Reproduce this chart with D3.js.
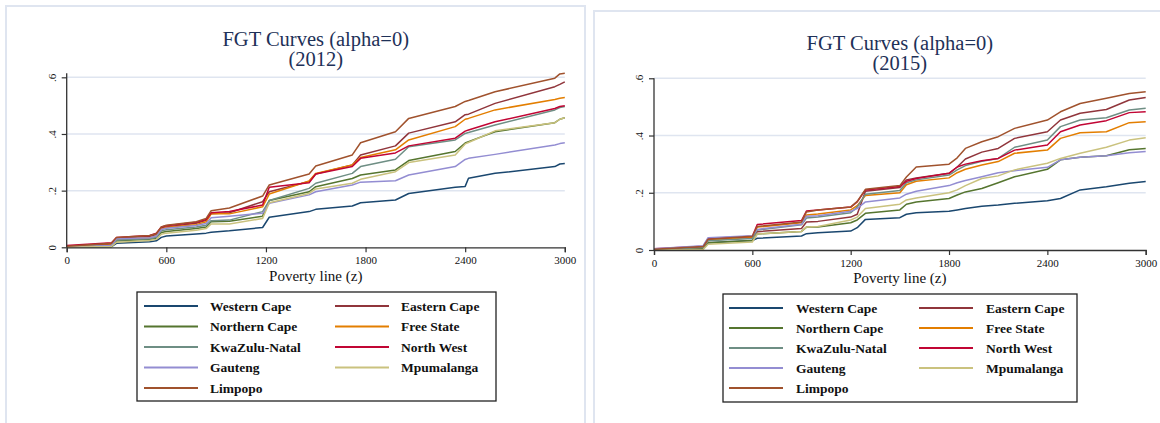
<!DOCTYPE html>
<html>
<head>
<meta charset="utf-8">
<title>FGT Curves (alpha=0)</title>
<script src="https://cdn.jsdelivr.net/npm/d3@7"></script>
<style>
body { margin: 0; background: #fff; }
text { font-family: "Liberation Serif", "DejaVu Serif", serif; }
</style>
</head>
<body>
<svg id="chart" width="1160" height="423"></svg>
<script>
// provinces, in legend order (two columns, row by row)
var provinces = ["Western Cape", "Eastern Cape", "Northern Cape", "Free State",
  "KwaZulu-Natal", "North West", "Gauteng", "Mpumalanga", "Limpopo"];
// stata s2color
var palette = ["#1a476f", "#90353b", "#55752f", "#e37e00", "#6e8e84",
  "#c10534", "#938dd2", "#cac27e", "#a0522d"];

var xTicks = [0, 600, 1200, 1800, 2400, 3000];
var yTicks = [0, 0.2, 0.4, 0.6];

// ---- 2012 ----
var z2012 = [0, 270, 300, 500, 540, 570, 600, 780, 840, 870, 980, 1180, 1220, 1460, 1500,
  1720, 1770, 1980, 2060, 2340, 2400, 2420, 2580, 2940, 2970, 3000];
var westernCape2012  = [0, .002, .014, .020, .023, .035, .040, .047, .050, .053, .058, .070, .106, .126, .134, .146, .157, .167, .190, .212, .215, .244, .261, .285, .294, .296];
var easternCape2012  = [.003, .012, .032, .038, .045, .068, .072, .085, .095, .118, .122, .161, .196, .232, .259, .291, .326, .358, .403, .443, .468, .470, .508, .567, .575, .584];
var northernCape2012 = [0, .004, .022, .028, .032, .052, .056, .066, .072, .090, .092, .110, .165, .196, .214, .243, .255, .273, .306, .338, .368, .373, .408, .440, .452, .457];
var freeState2012    = [.002, .008, .028, .034, .040, .064, .070, .080, .090, .118, .118, .143, .188, .234, .261, .291, .317, .344, .379, .426, .452, .455, .485, .522, .526, .529];
var kwaZulu2012      = [0, .006, .026, .030, .035, .058, .062, .072, .078, .094, .096, .126, .165, .208, .226, .261, .285, .311, .355, .379, .402, .405, .432, .485, .493, .497];
var northWest2012    = [.006, .016, .035, .042, .050, .072, .076, .088, .098, .122, .126, .149, .212, .228, .259, .285, .314, .333, .358, .385, .410, .414, .443, .490, .497, .500];
var gauteng2012      = [0, .006, .030, .034, .040, .063, .067, .077, .084, .104, .110, .120, .155, .185, .196, .220, .230, .235, .255, .285, .310, .314, .328, .361, .366, .369];
var mpumalanga2012   = [0, .003, .018, .024, .028, .046, .050, .060, .066, .082, .082, .102, .157, .190, .206, .226, .240, .267, .299, .326, .365, .370, .411, .440, .452, .457];
var limpopo2012      = [.004, .014, .035, .042, .048, .072, .078, .090, .102, .129, .139, .181, .220, .259, .287, .326, .369, .408, .455, .497, .515, .518, .549, .597, .612, .614];

// ---- 2015 ----
var z2015 = [0, 300, 330, 600, 630, 900, 930, 1000, 1200, 1240, 1290, 1500, 1540, 1600,
  1800, 1850, 1900, 2000, 2100, 2200, 2400, 2480, 2600, 2760, 2900, 3000];
var westernCape2015  = [0, .003, .025, .033, .041, .049, .057, .060, .066, .078, .107, .113, .125, .130, .135, .140, .145, .153, .157, .163, .172, .180, .210, .221, .233, .239];
var easternCape2015  = [0, .008, .035, .045, .064, .075, .098, .100, .115, .125, .205, .218, .245, .252, .268, .290, .318, .342, .355, .390, .413, .454, .478, .491, .524, .533];
var northernCape2015 = [0, .005, .025, .033, .056, .065, .080, .080, .095, .105, .128, .140, .160, .168, .180, .192, .203, .215, .235, .256, .282, .315, .324, .329, .350, .355];
var freeState2015    = [.002, .010, .033, .045, .080, .095, .122, .126, .140, .155, .190, .200, .228, .240, .252, .270, .282, .297, .309, .338, .349, .390, .410, .413, .445, .448];
var kwaZulu2015      = [.001, .009, .032, .040, .070, .088, .112, .115, .130, .150, .195, .208, .235, .245, .262, .280, .295, .310, .320, .359, .384, .431, .454, .462, .489, .495];
var northWest2015    = [.004, .013, .040, .048, .089, .103, .136, .140, .150, .168, .210, .222, .240, .250, .268, .290, .300, .312, .320, .349, .367, .413, .437, .452, .480, .483];
var gauteng2015      = [.004, .015, .043, .050, .072, .090, .118, .120, .135, .145, .168, .182, .195, .205, .225, .235, .243, .256, .270, .277, .289, .315, .324, .329, .340, .344];
var mpumalanga2015   = [0, .002, .020, .028, .056, .065, .080, .082, .105, .115, .145, .160, .175, .182, .200, .210, .225, .250, .259, .280, .303, .320, .338, .359, .384, .392];
var limpopo2015      = [.003, .012, .038, .048, .082, .098, .133, .140, .150, .170, .212, .225, .255, .290, .300, .322, .355, .378, .396, .425, .454, .483, .512, .530, .547, .553];

var svg = d3.select("#chart");

function fmtY(d) {
  if (d === 0) return "0";
  return d3.format(".1f")(d).replace(/^0/, "");
}

function drawPanel(p) {
  // frame of the graph region
  svg.append("rect")
    .attr("x", p.frame[0]).attr("y", p.frame[1])
    .attr("width", p.frame[2]).attr("height", p.frame[3])
    .attr("fill", "none").attr("stroke", "#dfe5f0").attr("stroke-width", 2);

  var x = d3.scaleLinear().domain([0, 3000]).range([p.left, p.right]);
  var y = d3.scaleLinear().domain([0, p.yMax]).range([p.bottom, p.bottom - p.perUnit * p.yMax]);

  var g = svg.append("g");

  // gridlines
  g.selectAll("line.grid")
    .data(yTicks.filter(function(d) { return d > 0; }))
    .enter().append("line")
    .attr("x1", p.left).attr("x2", p.right)
    .attr("y1", function(d) { return y(d); })
    .attr("y2", function(d) { return y(d); })
    .attr("stroke", "#dfe5f0").attr("stroke-width", 1.5);

  // series
  var line = d3.line()
    .x(function(d) { return x(d[0]); })
    .y(function(d) { return y(d[1]); });

  p.series.forEach(function(vals, i) {
    var pts = p.z.map(function(z, k) { return [z, vals[k]]; });
    g.append("path")
      .datum(pts)
      .attr("d", line)
      .attr("fill", "none")
      .attr("stroke", palette[i])
      .attr("stroke-width", 1.5)
      .attr("stroke-linejoin", "round");
  });

  // axes
  var xAxis = d3.axisBottom(x).tickValues(xTicks).tickSize(5).tickPadding(4)
    .tickFormat(d3.format("d"));
  var gx = g.append("g").attr("transform", "translate(0," + p.bottom + ")").call(xAxis);
  gx.select(".domain").attr("stroke", "#333").attr("stroke-width", 1.3);
  gx.selectAll(".tick line").attr("stroke", "#333").attr("stroke-width", 1.2);
  gx.selectAll(".tick text")
    .attr("font-size", 11).attr("fill", "#111");

  var yAxis = d3.axisLeft(y).tickValues(yTicks).tickSize(5).tickFormat(fmtY);
  var gy = g.append("g").attr("transform", "translate(" + p.left + ",0)").call(yAxis);
  gy.select(".domain").attr("stroke", "#333").attr("stroke-width", 1.3)
    .attr("d", "M0," + y(p.yMax) + "V" + p.bottom);
  gy.selectAll(".tick line").attr("stroke", "#333").attr("stroke-width", 1.2);
  gy.selectAll(".tick text")
    .attr("font-size", 11).attr("fill", "#111")
    .attr("x", null).attr("dy", null)
    .attr("text-anchor", "middle")
    .attr("transform", "translate(-11,0) rotate(-90)");

  // titles (two lines in one text element)
  var cx = (p.left + p.right) / 2;
  var title = svg.append("text").attr("x", cx).attr("y", p.titleY)
    .attr("text-anchor", "middle").attr("font-size", 20.5).attr("fill", "#1e3158");
  title.append("tspan").attr("x", cx).attr("y", p.titleY).text("FGT Curves (alpha=0)");
  title.append("tspan").attr("x", cx).attr("y", p.titleY + 20).text("(" + p.year + ")");

  svg.append("text").attr("x", cx).attr("y", p.axisTitleY)
    .attr("text-anchor", "middle").attr("font-size", 15).attr("fill", "#111")
    .text("Poverty line (z)");

  // legend
  var L = p.legend;
  svg.append("rect")
    .attr("x", L.x).attr("y", L.y).attr("width", L.w).attr("height", L.h)
    .attr("fill", "#fff").attr("stroke", "#222").attr("stroke-width", 1.3);
  provinces.forEach(function(name, i) {
    var col = i % 2, row = Math.floor(i / 2);
    var ly = L.row0 + row * L.step;
    var lx = L.cols[col];
    svg.append("line")
      .attr("x1", lx).attr("x2", lx + L.lineLen)
      .attr("y1", ly).attr("y2", ly)
      .attr("stroke", palette[i]).attr("stroke-width", 2);
    svg.append("text")
      .attr("x", lx + L.textOff).attr("y", ly)
      .attr("dominant-baseline", "central")
      .attr("font-size", 13.5).attr("font-weight", "bold").attr("fill", "#111")
      .text(name);
  });
}

drawPanel({
  year: 2012,
  frame: [6, 6, 579, 440],
  left: 66.7, right: 564.8, bottom: 247.3, perUnit: 283.3, yMax: 0.614,
  titleY: 45.5, axisTitleY: 281,
  z: z2012,
  series: [westernCape2012, easternCape2012, northernCape2012, freeState2012, kwaZulu2012,
    northWest2012, gauteng2012, mpumalanga2012, limpopo2012],
  legend: { x: 137, y: 292, w: 359, h: 109, row0: 306, step: 20.5,
    cols: [144, 335], lineLen: 54, textOff: 66 }
});

drawPanel({
  year: 2015,
  frame: [594, 11, 600, 440],
  left: 654, right: 1145.7, bottom: 250, perUnit: 286.2, yMax: 0.6,
  titleY: 50.3, axisTitleY: 283,
  z: z2015,
  series: [westernCape2015, easternCape2015, northernCape2015, freeState2015, kwaZulu2015,
    northWest2015, gauteng2015, mpumalanga2015, limpopo2015],
  legend: { x: 723, y: 294, w: 354, h: 108, row0: 308, step: 20,
    cols: [729, 919], lineLen: 54, textOff: 67 }
});
</script>
</body>
</html>
